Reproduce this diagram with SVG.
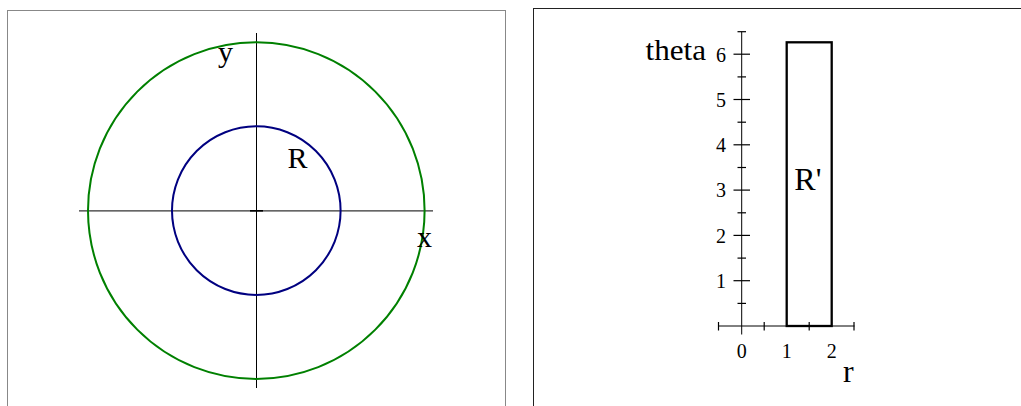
<svg xmlns="http://www.w3.org/2000/svg" width="1021" height="406" viewBox="0 0 1021 406">
<style>
.t{font-family:"Liberation Serif","Times New Roman",serif;fill:#000}
.ax{stroke:#000;stroke-width:1;fill:none}
.tk{stroke:#000;stroke-width:1.2;fill:none}
</style>
<rect width="1021" height="406" fill="#fff"/>
<g id="left-panel">
<rect x="7.5" y="10.5" width="498" height="420" fill="none" stroke="#888" stroke-width="1"/>
<g id="left-axes">
<line x1="79" y1="210.8" x2="433" y2="210.8" stroke="#333" stroke-width="1.2"/>
<line x1="256.5" y1="33" x2="256.5" y2="388" class="ax"/>
<line x1="250" y1="210.8" x2="263" y2="210.8" stroke="#000" stroke-width="1.6"/>
</g>
<circle id="outer-circle" cx="256.3" cy="210.6" r="168.3" fill="none" stroke="#008000" stroke-width="2"/>
<circle id="region-R" cx="256.3" cy="210.6" r="84.3" fill="none" stroke="#000080" stroke-width="2"/>
<text class="t" x="218" y="62" font-size="30">y</text>
<text class="t" x="417" y="247" font-size="30">x</text>
<text class="t" x="287.5" y="168.3" font-size="30">R</text>
</g>
<g id="right-panel">
<rect x="533.5" y="8.5" width="500" height="420" fill="none" stroke="#222" stroke-width="1"/>
<g id="right-axes">
<line x1="718" y1="326" x2="854.5" y2="326" class="ax"/>
<line x1="741.7" y1="31.7" x2="741.7" y2="334.5" class="ax"/>
<g class="tk">
<line x1="733.5" y1="280.7" x2="750" y2="280.7"/>
<line x1="733.5" y1="235.4" x2="750" y2="235.4"/>
<line x1="733.5" y1="190.1" x2="750" y2="190.1"/>
<line x1="733.5" y1="144.8" x2="750" y2="144.8"/>
<line x1="733.5" y1="99.5" x2="750" y2="99.5"/>
<line x1="733.5" y1="54.2" x2="750" y2="54.2"/>
<line x1="737.5" y1="303.4" x2="746" y2="303.4"/>
<line x1="737.5" y1="258.1" x2="746" y2="258.1"/>
<line x1="737.5" y1="212.8" x2="746" y2="212.8"/>
<line x1="737.5" y1="167.5" x2="746" y2="167.5"/>
<line x1="737.5" y1="122.2" x2="746" y2="122.2"/>
<line x1="737.5" y1="76.9" x2="746" y2="76.9"/>
<line x1="737.5" y1="31.7" x2="746" y2="31.7"/>
<line x1="718.5" y1="322" x2="718.5" y2="330.5"/>
<line x1="764.2" y1="322" x2="764.2" y2="330.5"/>
<line x1="809.2" y1="322" x2="809.2" y2="330.5"/>
<line x1="854" y1="322" x2="854" y2="330.5"/>
</g>
</g>
<rect id="region-Rprime" x="786.7" y="42.3" width="45" height="283.7" fill="none" stroke="#000" stroke-width="2.3"/>
<g class="t" font-size="20" text-anchor="end">
<text x="726" y="288">1</text>
<text x="726" y="242.5">2</text>
<text x="726" y="197">3</text>
<text x="726" y="152">4</text>
<text x="726" y="106.5">5</text>
<text x="726" y="61.5">6</text>
</g>
<g class="t" font-size="20" text-anchor="middle">
<text x="741.7" y="357.5">0</text>
<text x="786.7" y="357.5">1</text>
<text x="831.7" y="357.5">2</text>
</g>
<text class="t" x="645.5" y="60" font-size="30" textLength="60.5" lengthAdjust="spacingAndGlyphs">theta</text>
<text class="t" x="794.3" y="190" font-size="32">R'</text>
<text class="t" x="843" y="381.5" font-size="32">r</text>
</g>
</svg>
